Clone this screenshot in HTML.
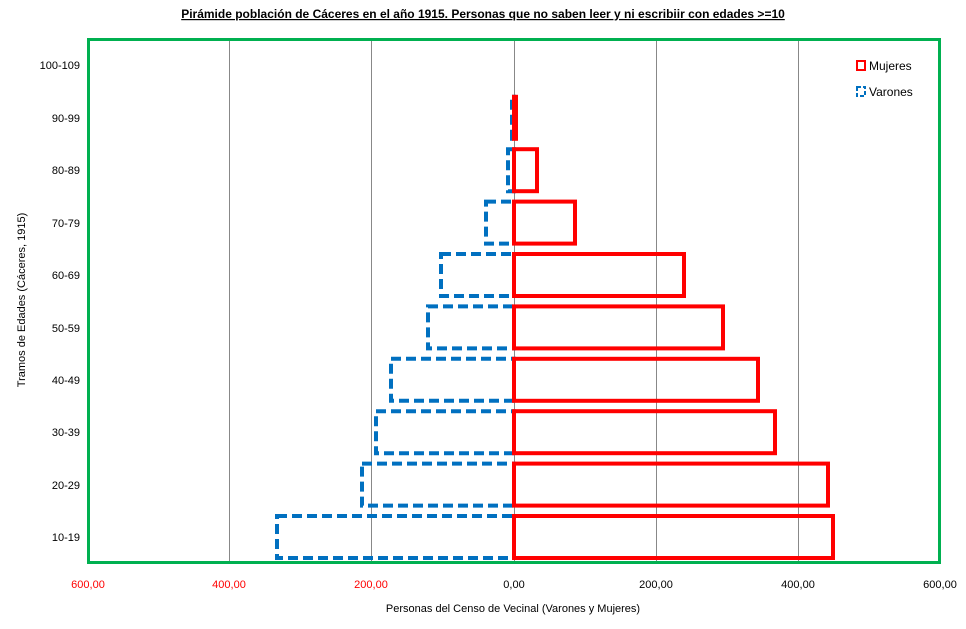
<!DOCTYPE html>
<html><head><meta charset="utf-8"><style>
body{margin:0;background:#fff;}
svg{display:block;font-family:"Comic Sans MS","Liberation Sans",sans-serif;}
</style></head><body>
<svg width="966" height="629" viewBox="0 0 966 629" xmlns="http://www.w3.org/2000/svg">
<text x="483" y="18" text-anchor="middle" font-size="12" font-weight="bold" text-decoration="underline" fill="#000">Pirámide población de Cáceres  en  el  año  1915.  Personas  que  no  saben  leer  y  ni  escribiir  con  edades  &gt;=10</text>
<g stroke="#888" stroke-width="1">
<line x1="229.5" y1="40" x2="229.5" y2="562"/>
<line x1="371.5" y1="40" x2="371.5" y2="562"/>
<line x1="514.5" y1="40" x2="514.5" y2="562"/>
<line x1="656.5" y1="40" x2="656.5" y2="562"/>
<line x1="798.5" y1="40" x2="798.5" y2="562"/>
</g>
<g fill="none" stroke="#0070c0" stroke-width="4" stroke-dasharray="10,5">
<rect x="277" y="516" width="237" height="42"/>
<rect x="362" y="463.6" width="152" height="42"/>
<rect x="376" y="411.2" width="138" height="42"/>
<rect x="391" y="358.8" width="123" height="42"/>
<rect x="428" y="306.4" width="86" height="42"/>
<rect x="441" y="254" width="73" height="42"/>
<rect x="486" y="201.6" width="28" height="42"/>
<rect x="508" y="149.2" width="6" height="42"/>
<rect x="512" y="96.8" width="2" height="42"/>
</g>
<g fill="none" stroke="#ff0000" stroke-width="4">
<rect x="514" y="516" width="319" height="42"/>
<rect x="514" y="463.6" width="314" height="42"/>
<rect x="514" y="411.2" width="261" height="42"/>
<rect x="514" y="358.8" width="244" height="42"/>
<rect x="514" y="306.4" width="209" height="42"/>
<rect x="514" y="254" width="170" height="42"/>
<rect x="514" y="201.6" width="61" height="42"/>
<rect x="514" y="149.2" width="23" height="42"/>
<rect x="514" y="96.8" width="2" height="42"/>
</g>
<rect x="88.5" y="39.5" width="851" height="523" fill="none" stroke="#00b050" stroke-width="3"/>
<g font-size="11" fill="#000" text-anchor="end">
<text x="80" y="541">10-19</text>
<text x="80" y="489">20-29</text>
<text x="80" y="436">30-39</text>
<text x="80" y="384">40-49</text>
<text x="80" y="332">50-59</text>
<text x="80" y="279">60-69</text>
<text x="80" y="227">70-79</text>
<text x="80" y="174">80-89</text>
<text x="80" y="122">90-99</text>
<text x="80" y="69">100-109</text>
</g>
<g font-size="11" text-anchor="middle">
<text x="88" y="588" fill="#ff0000">600,00</text>
<text x="229" y="588" fill="#ff0000">400,00</text>
<text x="371" y="588" fill="#ff0000">200,00</text>
<text x="514" y="588" fill="#000">0,00</text>
<text x="656" y="588" fill="#000">200,00</text>
<text x="798" y="588" fill="#000">400,00</text>
<text x="940" y="588" fill="#000">600,00</text>
</g>
<text x="513" y="612" font-size="11" text-anchor="middle">Personas del Censo de Vecinal (Varones y Mujeres)</text>
<text transform="translate(25,300) rotate(-90)" font-size="11" text-anchor="middle">Tramos de Edades (Cáceres, 1915)</text>
<rect x="857" y="61" width="8" height="9" fill="none" stroke="#ff0000" stroke-width="2"/>
<text x="869" y="70" font-size="12">Mujeres</text>
<rect x="857" y="87" width="8" height="9" fill="none" stroke="#0070c0" stroke-width="2" stroke-dasharray="4,2"/>
<text x="869" y="96" font-size="12">Varones</text>
</svg>
</body></html>
